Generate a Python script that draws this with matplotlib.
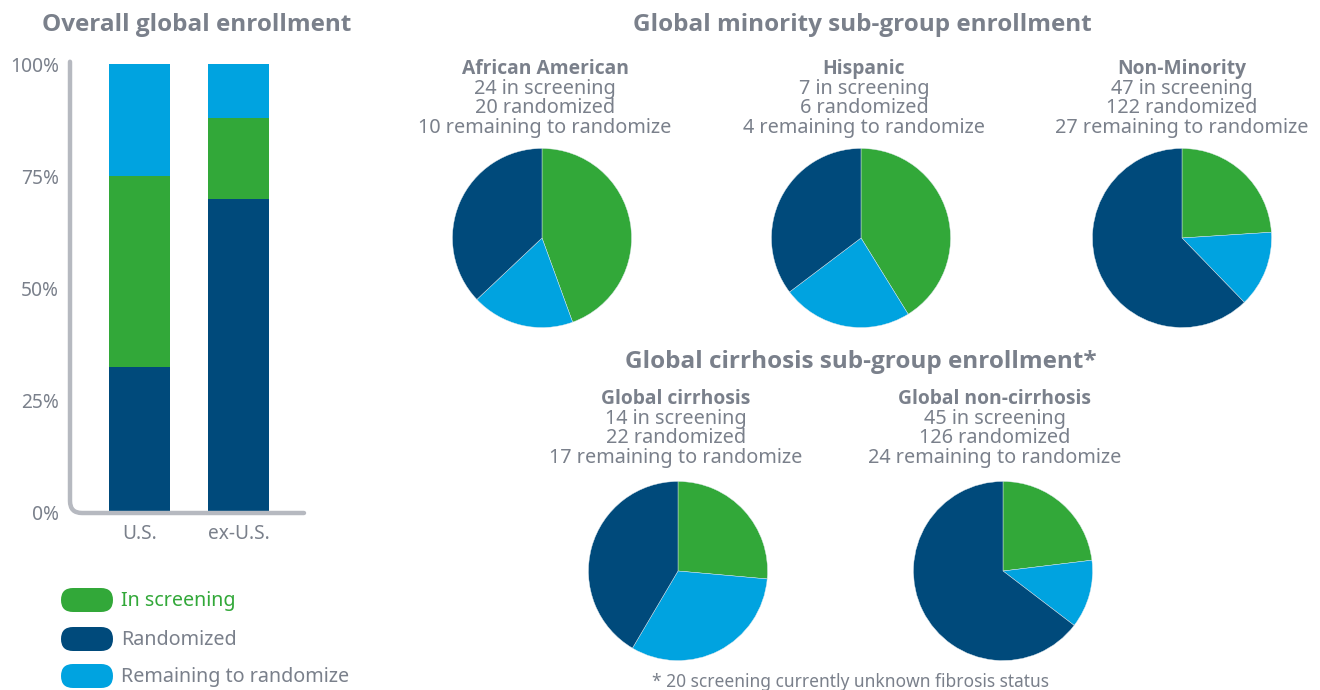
import matplotlib.pyplot as plt
from matplotlib.patches import FancyBboxPatch
from matplotlib.path import Path
from matplotlib.patches import PathPatch

plt.rcParams['font.family'] = ['Noto Sans', 'DejaVu Sans']
BOLD_FAMILY = ['Open Sans', 'Noto Sans', 'DejaVu Sans']

GREEN = '#32a839'
DARK = '#004a7b'
LIGHT = '#00a3e0'
GRAY = '#7a808b'
AXIS_GRAY = '#b6b9c0'

# overall bars (percent)
regions = ['U.S.', 'ex-U.S.']
bar_randomized = [32.5, 70.0]
bar_screening = [42.5, 18.0]
bar_remaining = [25.0, 12.0]
y_ticks = [0, 25, 50, 75, 100]
y_tick_labels = ['0%', '25%', '50%', '75%', '100%']

# pies: (screening, randomized, remaining)
minority_groups = ['African American', 'Hispanic', 'Non-Minority']
minority_screening = [24, 7, 47]
minority_randomized = [20, 6, 122]
minority_remaining = [10, 4, 27]

cirrhosis_groups = ['Global cirrhosis', 'Global non-cirrhosis']
cirrhosis_screening = [14, 45]
cirrhosis_randomized = [22, 126]
cirrhosis_remaining = [17, 24]

legend_labels = ['In screening', 'Randomized', 'Remaining to randomize']
legend_colors = [GREEN, DARK, LIGHT]

W, H = 1320, 690
fig = plt.figure(figsize=(W / 100, H / 100), dpi=100)


def px_axes(x0, y0, x1, y1):
    # pixel box (top-left origin) -> figure axes
    return fig.add_axes([x0 / W, 1 - y1 / H, (x1 - x0) / W, (y1 - y0) / H])


# ---- stacked bars ----
ax = px_axes(70, 64, 304, 513)
x = range(len(regions))
bw = 0.616
ax.bar(x, bar_randomized, bw, color=DARK, zorder=2)
ax.bar(x, bar_screening, bw, bottom=bar_randomized, color=GREEN, zorder=2)
bottoms = [a + b for a, b in zip(bar_randomized, bar_screening)]
ax.bar(x, bar_remaining, bw, bottom=bottoms, color=LIGHT, zorder=2)
ax.set_xlim(-0.70, 1.66)
ax.set_ylim(0, 100)
ax.set_yticks(y_ticks)
ax.set_yticklabels(y_tick_labels)
ax.set_xticks(list(x))
ax.set_xticklabels(regions)
ax.tick_params(length=0, labelsize=13.8, colors=GRAY)
ax.tick_params(axis='y', pad=8)
ax.tick_params(axis='x', pad=8)
for s in ax.spines.values():
    s.set_visible(False)

# rounded L-shaped axis line
rx, ry = 12 / 234, 12 / 449
verts = [(0, 1.005), (0, ry), (0, 0), (rx, 0), (1, 0)]
codes = [Path.MOVETO, Path.LINETO, Path.CURVE3, Path.CURVE3, Path.LINETO]
ax.add_patch(PathPatch(Path(verts, codes), transform=ax.transAxes, fill=False,
                       edgecolor=AXIS_GRAY, lw=3.2, capstyle='round',
                       clip_on=False, zorder=3))


# ---- pies ----
def draw_pie(cx, cy, scr, rnd, rem):
    r = 90
    pa = px_axes(cx - r, cy - r, cx + r, cy + r)
    pa.pie([scr, rem, rnd], colors=[GREEN, LIGHT, DARK], startangle=90,
           counterclock=False, radius=1,
           wedgeprops=dict(linewidth=0.3, edgecolor='#dfe8ee'))
    pa.set_xlim(-1.005, 1.005)
    pa.set_ylim(-1.005, 1.005)
    pa.set_aspect('equal')


minority_cx = [542, 861, 1182]
for i, cx in enumerate(minority_cx):
    draw_pie(cx, 238, minority_screening[i], minority_randomized[i],
             minority_remaining[i])

cirr_cx = [678, 1003]
for i, cx in enumerate(cirr_cx):
    draw_pie(cx, 571, cirrhosis_screening[i], cirrhosis_randomized[i],
             cirrhosis_remaining[i])

# ---- overlay for text and legend (pixel coords) ----
ov = fig.add_axes([0, 0, 1, 1])
ov.set_xlim(0, W)
ov.set_ylim(H, 0)
ov.axis('off')
ov.patch.set_alpha(0)

title_kw = dict(ha='center', va='baseline', fontsize=17.5, fontweight='bold',
                color=GRAY, family=BOLD_FAMILY)
ov.text(197, 31, 'Overall global enrollment', **title_kw)
ov.text(862, 31, 'Global minority sub-group enrollment', **title_kw)
ov.text(861, 368, 'Global cirrhosis sub-group enrollment*', **title_kw)


def label_block(cx, top_base, name, scr, rnd, rem):
    step = 19.7
    ov.text(cx, top_base, name, ha='center', va='baseline', fontsize=13.9,
            fontweight='bold', color=GRAY, family=BOLD_FAMILY)
    lines = [f'{scr} in screening', f'{rnd} randomized',
             f'{rem} remaining to randomize']
    for k, t in enumerate(lines):
        ov.text(cx, top_base + step * (k + 1), t, ha='center', va='baseline',
                fontsize=14.3, color=GRAY)


for i, cx in enumerate([545, 864, 1182]):
    label_block(cx, 74, minority_groups[i], minority_screening[i],
                minority_randomized[i], minority_remaining[i])
for i, cx in enumerate([676, 995]):
    label_block(cx, 404, cirrhosis_groups[i], cirrhosis_screening[i],
                cirrhosis_randomized[i], cirrhosis_remaining[i])

ov.text(850, 687, '* 20 screening currently unknown fibrosis status',
        ha='center', va='baseline', fontsize=12.5, color=GRAY)

# legend pills
for k, (lab, col) in enumerate(zip(legend_labels, legend_colors)):
    cy = [600, 639, 676][k]
    ov.add_patch(FancyBboxPatch((61 + 12, cy), 52 - 24, 0,
                                boxstyle='round,pad=12', facecolor=col,
                                edgecolor='none'))
    ov.text(121, cy + 1, lab, ha='left', va='center', fontsize=14.2,
            color=GREEN if k == 0 else GRAY)

fig.savefig('out.png', dpi=100)
